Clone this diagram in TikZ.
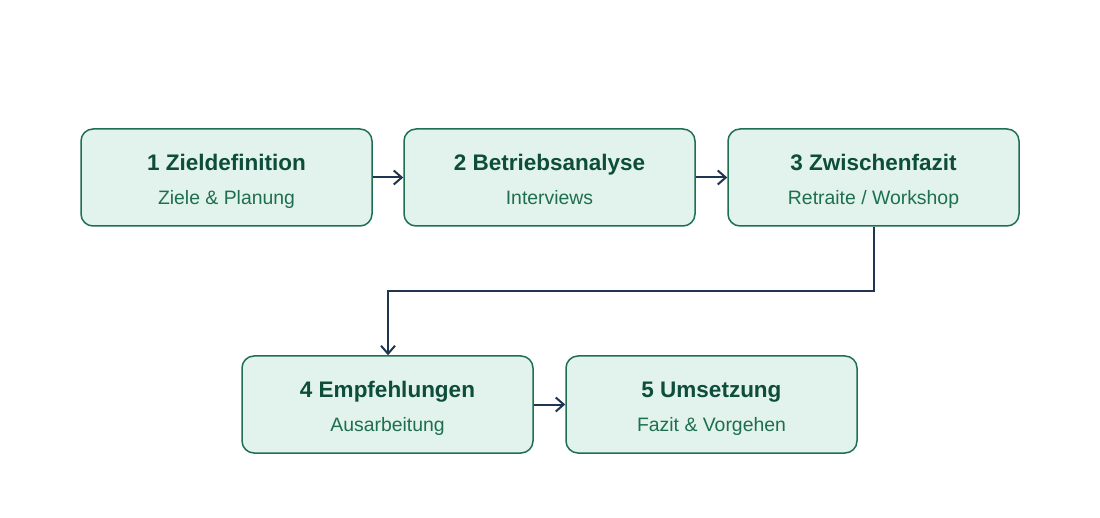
\documentclass[tikz,border=0pt]{standalone}
\usepackage{fontspec}
\setmainfont{Liberation Sans}
\usetikzlibrary{arrows.meta}
\definecolor{boxfill}{HTML}{E1F3EC}
\definecolor{boxline}{HTML}{1E7050}
\definecolor{titlecol}{HTML}{0D4D3A}
\definecolor{subcol}{HTML}{1E6E50}
\definecolor{arrowcol}{HTML}{1F3550}
\tikzset{
  stepbox/.style={draw=boxline, fill=boxfill, line width=1.5pt, rounded corners=12pt,
    minimum width=291pt, minimum height=97pt, inner sep=0pt},
  ttl/.style={font=\fontsize{22.5}{26}\selectfont\bfseries, text=titlecol, inner sep=0pt, anchor=base},
  sub/.style={font=\fontsize{19.4}{23}\selectfont, text=subcol, inner sep=0pt, anchor=base},
  conn/.style={draw=arrowcol, line width=2pt, -{Straight Barb[length=8pt,width=14pt,line width=2pt]}}
}
\begin{document}
\begin{tikzpicture}[x=1pt,y=-1pt]
\useasboundingbox[fill=white] (0,0) rectangle (1100,518);
\node[stepbox] (b1) at (226.5,177.5) {};
\node[stepbox] (b2) at (549.5,177.5) {};
\node[stepbox] (b3) at (873.5,177.5) {};
\node[stepbox] (b4) at (387.5,404.5) {};
\node[stepbox] (b5) at (711.5,404.5) {};
\node[ttl] (t1) at (226.5,170.5) {1 Zieldefinition};
\node[sub] (s1) at (226.5,204.5) {Ziele \& Planung};
\node[ttl] (t2) at (549.5,170.5) {2 Betriebsanalyse};
\node[sub] (s2) at (549.5,204.5) {Interviews};
\node[ttl] (t3) at (873.5,170.5) {3 Zwischenfazit};
\node[sub] (s3) at (873.5,204.5) {Retraite / Workshop};
\node[ttl] (t4) at (387.5,397.5) {4 Empfehlungen};
\node[sub] (s4) at (387.5,431.5) {Ausarbeitung};
\node[ttl] (t5) at (711.5,397.5) {5 Umsetzung};
\node[sub] (s5) at (711.5,431.5) {Fazit \& Vorgehen};
\draw[conn] (b1.east) -- (b2.west);
\draw[conn] (b2.east) -- (b3.west);
\draw[conn] (b4.east) -- (b5.west);
\coordinate (m1) at (873.5,291);
\coordinate (m2) at (388,291);
\draw[conn] (b3.south) -- (m1) -- (m2) -- (b4.north -| m2);
\end{tikzpicture}
\end{document}
